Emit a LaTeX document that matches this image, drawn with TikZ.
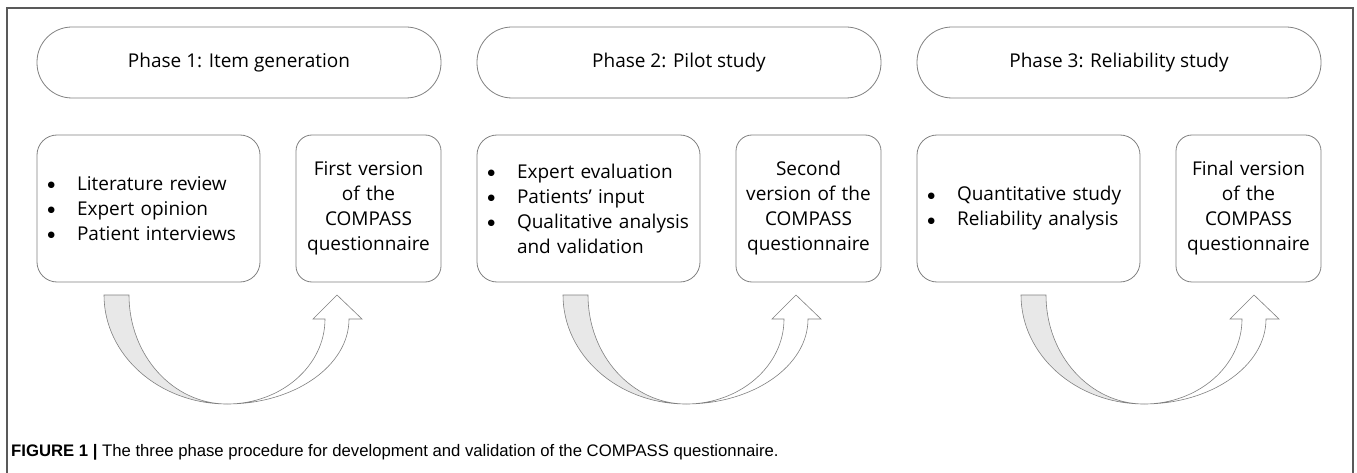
\documentclass[tikz,border=0pt]{standalone}
\usepackage{fontspec}
\setmainfont{Open Sans}
\newfontfamily\capfont{Liberation Sans}
\newfontfamily\dejavu{DejaVu Sans}
\begin{document}
\begin{tikzpicture}[x=1pt,y=-1pt,
  txt/.style={font=\fontsize{19}{25}\selectfont},
  pill/.style={draw=gray, line width=0.8pt, rounded corners=35pt, minimum width=404pt, minimum height=71pt, inner sep=0pt, txt},
  bigbox/.style={draw=gray, line width=0.8pt, rounded corners=20pt, minimum width=223pt, minimum height=147pt, text width=213pt, inner xsep=5pt, inner ysep=0pt, align=left, txt},
  smallbox/.style={draw=gray, line width=0.8pt, rounded corners=16pt, minimum width=145pt, minimum height=147pt, text width=143pt, inner xsep=1pt, inner ysep=0pt, align=center, txt},
  backface/.style={fill=black!9, draw=gray, line width=0.6pt},
  frontface/.style={fill=white, draw=gray, line width=0.6pt},
  frame/.style={draw=black!65, line width=1.3pt}
]
\useasboundingbox (0,0) rectangle (1357,473);
\draw[frame] (7,473) -- (7,8) -- (1353,8) -- (1353,473);

\newcommand\bl[1]{\makebox[35pt][l]{\hspace*{5.5pt}\raisebox{2.8pt}{\dejavu\fontsize{8.5}{9}\selectfont ●}}#1}

% phase pills
\node[pill] (p1) at (239,62.5) {Phase 1: Item generation};
\node[pill] (p2) at (679,62.5) {Phase 2: Pilot study};
\node[pill] (p3) at (1119,62.5) {Phase 3: Reliability study};

% boxes
\node[bigbox] (b1) at (148.5,208.5) {\bl{Literature review}\\\bl{Expert opinion}\\\bl{Patient interviews}};
\node[smallbox] (v1) at (368.5,208.5) {First version\\of the\\COMPASS\\questionnaire};
\node[bigbox] (b2) at (588.5,208.5) {\bl{Expert evaluation}\\\bl{Patients' input}\\\bl{Qualitative analysis}\\\hspace*{35pt}and validation};
\node[smallbox] (v2) at (808.5,208.5) {Second\\version of the\\COMPASS\\questionnaire};
\node[bigbox] (b3) at (1028.5,208.5) {\bl{Quantitative study}\\\bl{Reliability analysis}};
\node[smallbox] (v3) at (1248.5,208.5) {Final version\\of the\\COMPASS\\questionnaire};

% curved arrows
\foreach \dx/\n in {0/1,459/2,917/3}{
  \begin{scope}[xshift=\dx pt]
    \coordinate (m\n) at (227,404);
    \filldraw[backface] (104,295) .. controls (104,355.2) and (159.1,404) .. (m\n)
        .. controls (172.9,404) and (129,355.2) .. (129,295) -- cycle;
    \filldraw[frontface] (m\n) .. controls (294.4,404) and (349,365.9) .. (349,319)
        -- (362,319) -- (337,295) -- (313,319) -- (325,319)
        .. controls (325,365.9) and (281.1,404) .. (m\n) -- cycle;
  \end{scope}
}

% caption
\node[anchor=west, inner sep=0pt, font=\capfont\fontsize{16.7}{20}\selectfont] (cap) at (11,452)
  {\textbf{FIGURE 1 |} The three phase procedure for development and validation of the COMPASS questionnaire.};
\end{tikzpicture}
\end{document}
